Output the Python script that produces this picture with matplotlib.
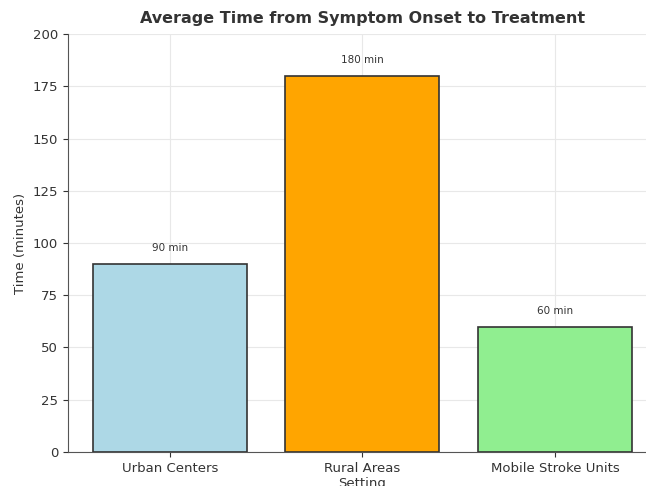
import matplotlib
matplotlib.use("Agg")
import matplotlib.pyplot as plt

categories = ["Urban Centers", "Rural Areas", "Mobile Stroke Units"]
times = [90, 180, 60]
colors = ["lightblue", "orange", "lightgreen"]

fig = plt.figure(figsize=(6.46, 4.86), dpi=100)
ax = fig.add_axes([0.105, 0.07, 0.912, 0.86])

x = range(len(categories))
bars = ax.bar(x, times, width=0.8, color=colors, edgecolor="#333333", linewidth=1.2, zorder=3)
for xi, v in zip(x, times):
    ax.text(xi, v + 5, f"{v} min", ha="center", va="bottom", fontsize=7.5, color="#333333")

ax.set_xticks(list(x))
ax.set_xticklabels(categories, fontsize=9.5, color="#333333")
ax.set_xlim(-0.53, 2.53)
ax.set_ylim(0, 200)
ax.set_yticks(range(0, 201, 25))
ax.tick_params(axis="y", labelsize=9.5, colors="#333333")
ax.tick_params(axis="x", colors="#333333")
ax.grid(True, color="#e8e8e8", linewidth=0.8, zorder=0)
for s in ["top", "right"]:
    ax.spines[s].set_visible(False)
for s in ["left", "bottom"]:
    ax.spines[s].set_color("#555555")
ax.set_ylabel("Time (minutes)", fontsize=9.5, color="#333333")
ax.set_xlabel("Setting", fontsize=9.5, color="#333333", labelpad=2)
ax.set_title("Average Time from Symptom Onset to Treatment", fontsize=11.5, fontweight="bold", color="#333333", pad=8)

fig.savefig("out.png", dpi=100)
